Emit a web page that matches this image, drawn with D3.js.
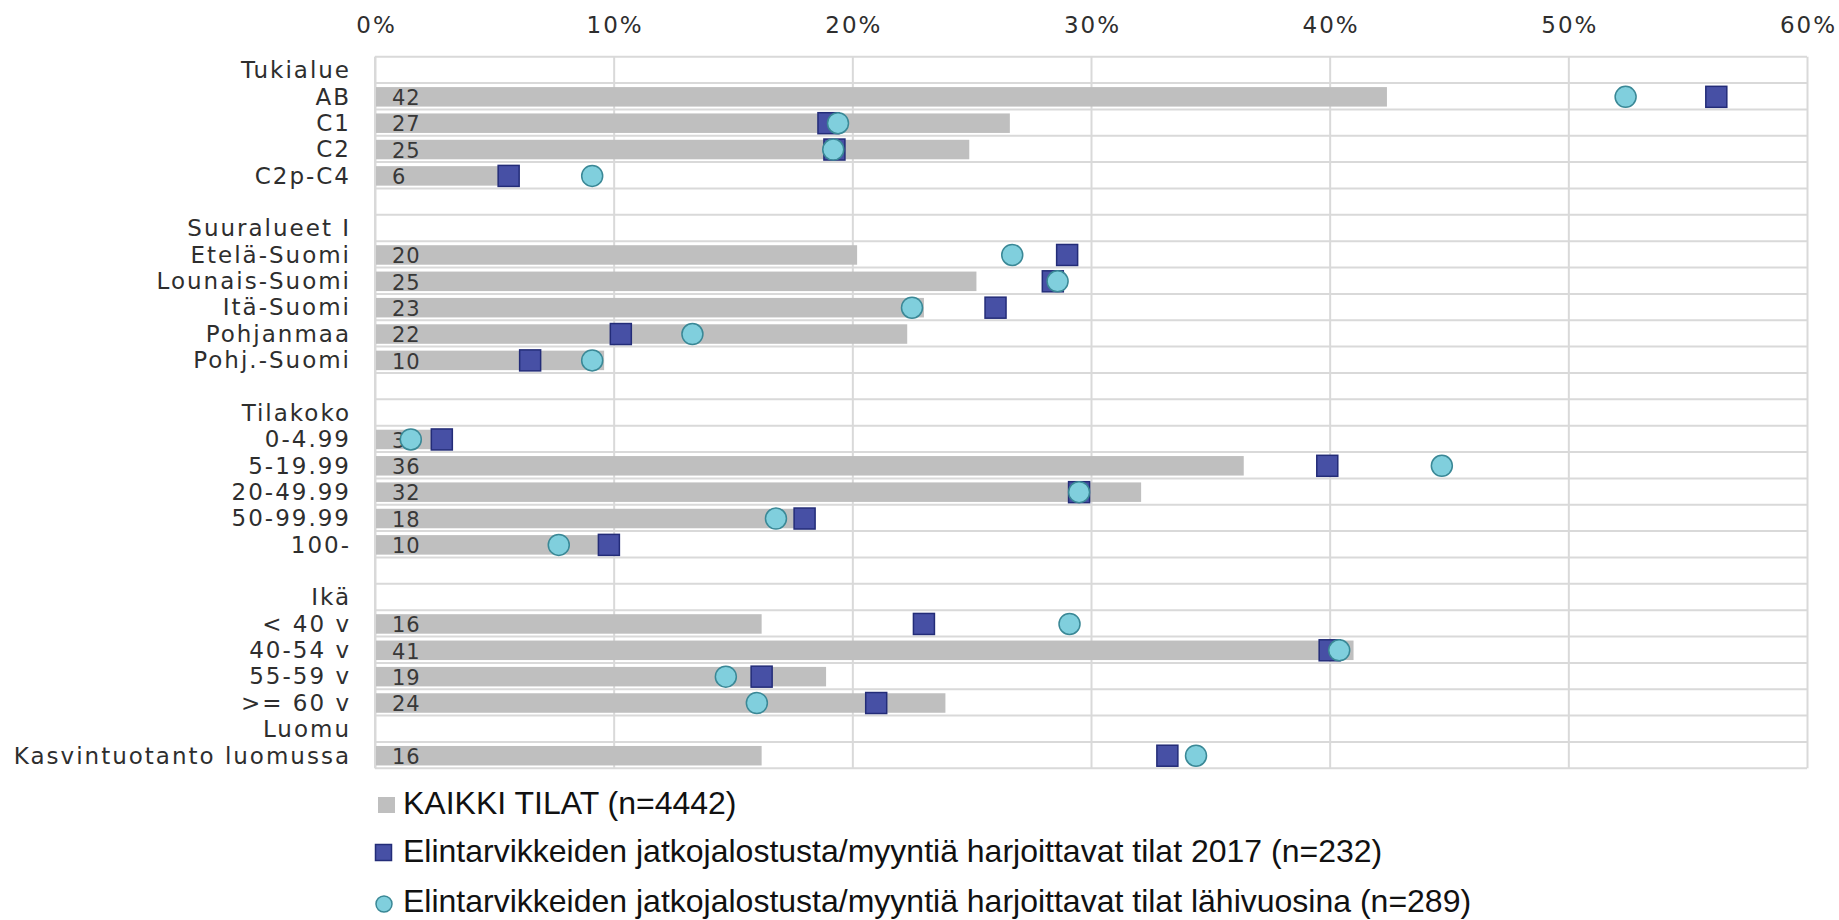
<!DOCTYPE html>
<meta charset="utf-8">
<script src="https://d3js.org/d3.v7.min.js"></script>
<style>
  html, body { margin: 0; padding: 0; background: #fff; }
  .cat { font-family: "DejaVu Sans", Verdana, sans-serif; font-size: 23px; letter-spacing: 2px; fill: #2e2e2e; }
  .num { font-family: "DejaVu Sans", Verdana, sans-serif; font-size: 21px; letter-spacing: 1px; fill: #383838; }
  .leg { font-family: "Liberation Sans", Arial, sans-serif; font-size: 32px; fill: #111; }
</style>
<body>
<div id="chart"></div>
<script>
  // rows of the chart, top to bottom ("" = empty spacer row)
  var categories = ["Tukialue", "AB", "C1", "C2", "C2p-C4", "",
    "Suuralueet I", "Etelä-Suomi", "Lounais-Suomi", "Itä-Suomi", "Pohjanmaa", "Pohj.-Suomi", "",
    "Tilakoko", "0-4.99", "5-19.99", "20-49.99", "50-99.99", "100-", "",
    "Ikä", "< 40 v", "40-54 v", "55-59 v", ">= 60 v",
    "Luomu", "Kasvintuotanto luomussa"];

  // KAIKKI TILAT (n=4442), %
  var kaikki = [null, 42.4, 26.6, 24.9, 5.6, null,
    null, 20.2, 25.2, 23.0, 22.3, 9.6, null,
    null, 2.6, 36.4, 32.1, 17.7, 9.6, null,
    null, 16.2, 41.0, 18.9, 23.9,
    null, 16.2];

  // jatkojalostusta/myyntiä harjoittavat tilat 2017 (n=232), %
  var tilat2017 = [null, 56.2, 19.0, 19.25, 5.6, null,
    null, 29.0, 28.4, 26.0, 10.3, 6.5, null,
    null, 2.8, 39.9, 29.5, 18.0, 9.8, null,
    null, 23.0, 40.0, 16.2, 21.0,
    null, 33.2];

  // jatkojalostusta/myyntiä harjoittavat tilat lähivuosina (n=289), %
  var lahivuosina = [null, 52.4, 19.4, 19.2, 9.1, null,
    null, 26.7, 28.6, 22.5, 13.3, 9.1, null,
    null, 1.5, 44.7, 29.5, 16.8, 7.7, null,
    null, 29.1, 40.4, 14.7, 16.0,
    null, 34.4];

  var xTicks = [0, 10, 20, 30, 40, 50, 60];

  var legendLabels = ["KAIKKI TILAT (n=4442)",
    "Elintarvikkeiden jatkojalostusta/myyntiä harjoittavat tilat 2017 (n=232)",
    "Elintarvikkeiden jatkojalostusta/myyntiä harjoittavat tilat lähivuosina (n=289)"];

  var W = 1839, H = 920;
  var plot = { left: 375, right: 1807, top: 56.7, bottom: 768.3 };

  var svg = d3.select("#chart").append("svg")
    .attr("width", W)
    .attr("height", H);

  var rows = categories.map(function (c, i) { return i; });

  var x = d3.scaleLinear().domain([0, 60]).range([plot.left, plot.right]);
  var y = d3.scaleBand().domain(rows).range([plot.top, plot.bottom]).padding(0);
  var barH = y.bandwidth() * 0.74;

  // vertical gridlines + top labels
  var axis = svg.append("g")
    .attr("transform", "translate(0," + plot.top + ")")
    .call(d3.axisTop(x).tickValues(xTicks).tickSize(-(plot.bottom - plot.top))
      .tickFormat(function (d) { return d + "%"; }));
  axis.select(".domain").remove();
  axis.selectAll(".tick line").attr("stroke", "#d9d9d9").attr("stroke-width", 2);
  axis.selectAll(".tick text")
    .attr("class", "cat")
    .attr("y", 33 - plot.top)
    .attr("dy", null)
    .attr("dx", 1);

  // horizontal row lines
  var bounds = rows.map(function (r) { return y(r); }).concat([plot.bottom]);
  svg.append("g").selectAll("line")
    .data(bounds)
    .enter().append("line")
    .attr("x1", plot.left).attr("x2", plot.right)
    .attr("y1", function (d) { return d; })
    .attr("y2", function (d) { return d; })
    .attr("stroke", "#d9d9d9")
    .attr("stroke-width", 2);
  svg.append("line")
    .attr("x1", plot.left).attr("x2", plot.left)
    .attr("y1", plot.top).attr("y2", plot.bottom)
    .attr("stroke", "#d9d9d9").attr("stroke-width", 2);

  // category labels
  svg.append("g").selectAll("text")
    .data(categories)
    .enter().append("text")
    .attr("class", "cat")
    .attr("text-anchor", "end")
    .attr("x", 351)
    .attr("y", function (d, i) { return y(i) + y.bandwidth() / 2 + 8.4; })
    .text(function (d) { return d; });

  var barRows = rows.filter(function (i) { return kaikki[i] != null; });

  // bars
  svg.append("g").selectAll("rect")
    .data(barRows)
    .enter().append("rect")
    .attr("x", x(0) + 1)
    .attr("y", function (i) { return y(i) + (y.bandwidth() - barH) / 2 + 0.6; })
    .attr("width", function (i) { return x(kaikki[i]) - x(0) - 1; })
    .attr("height", barH)
    .attr("fill", "#bfbfbf");

  // value labels in the bars
  svg.append("g").selectAll("text")
    .data(barRows)
    .enter().append("text")
    .attr("class", "num")
    .attr("x", 392)
    .attr("y", function (i) { return y(i) + y.bandwidth() / 2 + 8.8; })
    .text(function (i) { return Math.round(kaikki[i]); });

  // 2017 squares
  var sq = 21;
  svg.append("g").selectAll("rect")
    .data(rows.filter(function (i) { return tilat2017[i] != null; }))
    .enter().append("rect")
    .attr("x", function (i) { return x(tilat2017[i]) - sq / 2; })
    .attr("y", function (i) { return y(i) + y.bandwidth() / 2 + 0.6 - sq / 2; })
    .attr("width", sq).attr("height", sq)
    .attr("fill", "#4750a5")
    .attr("stroke", "#232c78")
    .attr("stroke-width", 1.5);

  // lähivuosina circles
  svg.append("g").selectAll("circle")
    .data(rows.filter(function (i) { return lahivuosina[i] != null; }))
    .enter().append("circle")
    .attr("cx", function (i) { return x(lahivuosina[i]); })
    .attr("cy", function (i) { return y(i) + y.bandwidth() / 2 + 0.6; })
    .attr("r", 10.5)
    .attr("fill", "#80cfdd")
    .attr("stroke", "#3a8896")
    .attr("stroke-width", 1.5);

  // legend
  var legY = [814, 862, 912];
  var leg = svg.append("g");
  leg.append("rect").attr("x", 378).attr("y", 797).attr("width", 17).attr("height", 16).attr("fill", "#bfbfbf");
  leg.append("rect").attr("x", 375.5).attr("y", 844.5).attr("width", 16).attr("height", 16)
    .attr("fill", "#4750a5").attr("stroke", "#232c78").attr("stroke-width", 1.5);
  leg.append("circle").attr("cx", 384).attr("cy", 904).attr("r", 8)
    .attr("fill", "#80cfdd").attr("stroke", "#3a8896").attr("stroke-width", 1.5);
  leg.selectAll("text")
    .data(legendLabels)
    .enter().append("text")
    .attr("class", "leg")
    .attr("x", 403)
    .attr("y", function (d, i) { return legY[i]; })
    .text(function (d) { return d; });
</script>
</body>
